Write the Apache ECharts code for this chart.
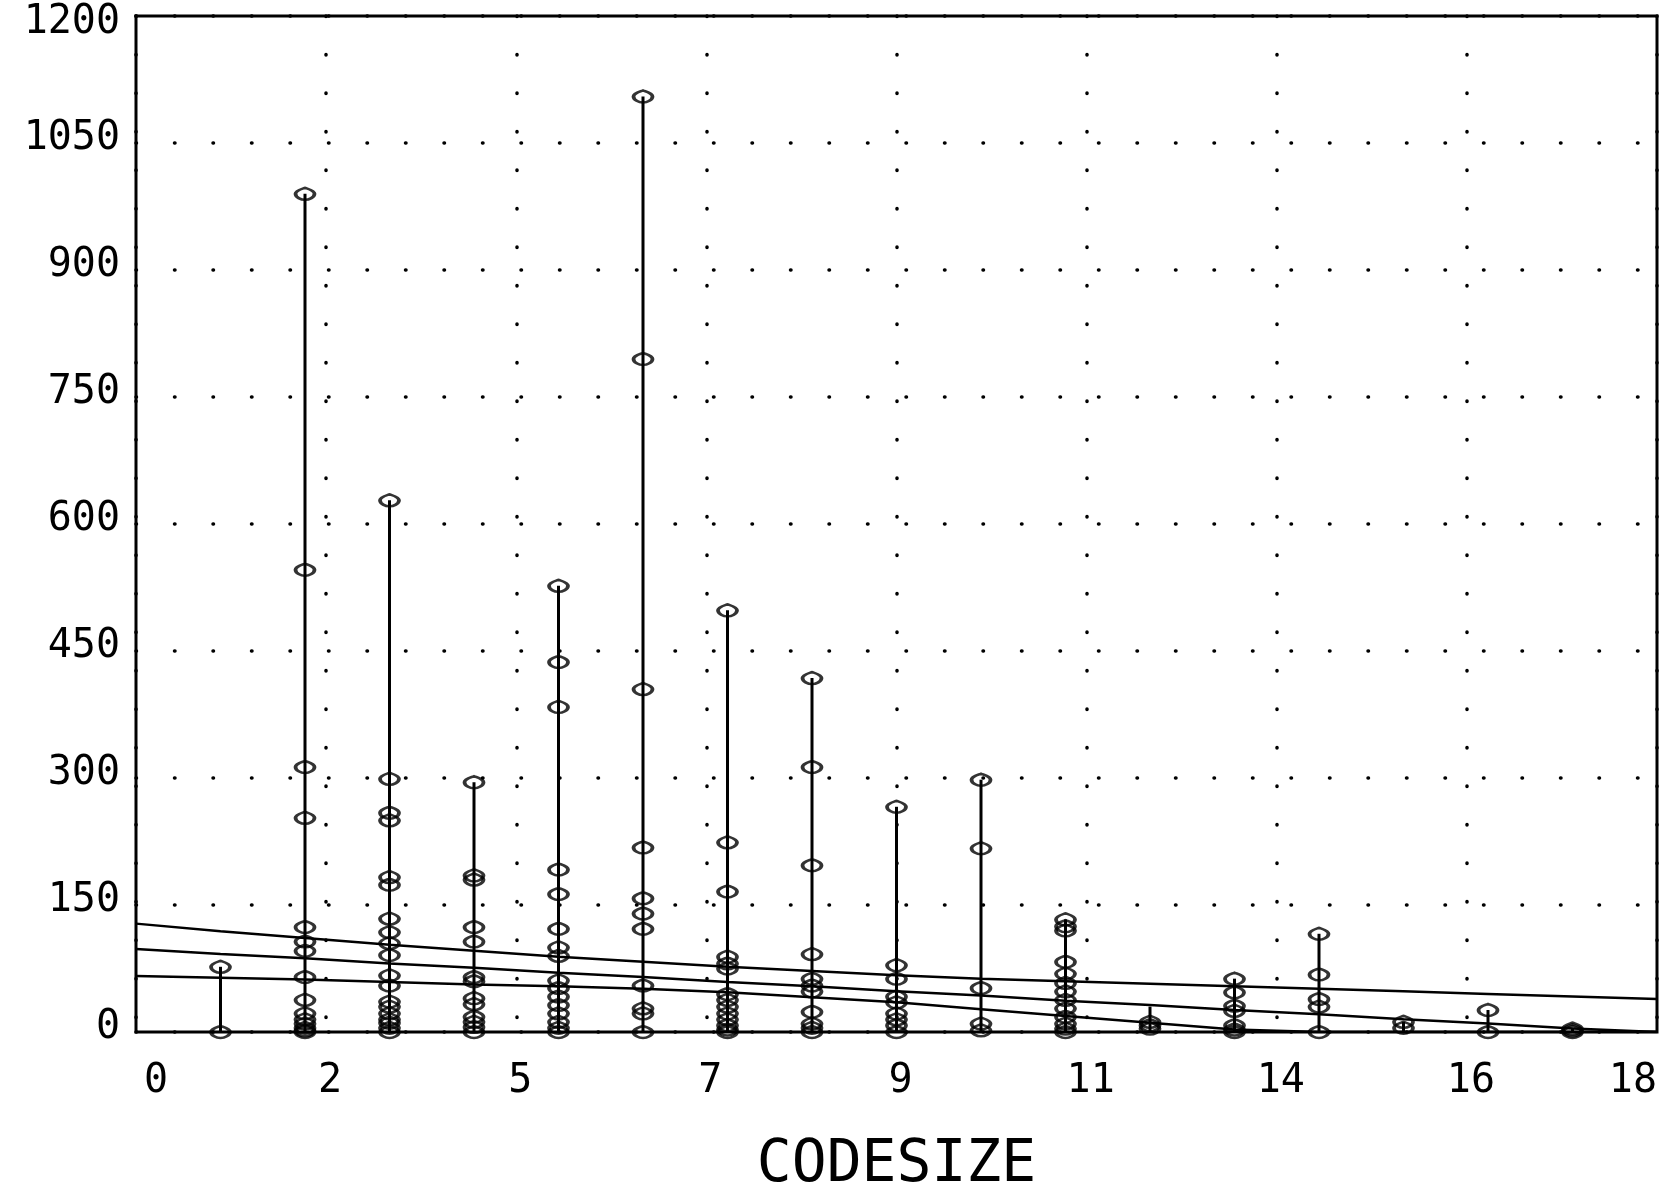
<!doctype html>
<html>
<head>
<meta charset="utf-8">
<title>CODESIZE</title>
<script src="https://cdn.jsdelivr.net/npm/echarts@6/dist/echarts.min.js"></script>
<style>
  html, body { margin: 0; padding: 0; width: 100%; height: 100%; background: #fff; }
  #chart { width: 1669px; height: 1193px; }
</style>
</head>
<body>
<div id="chart"></div>
<script>
// codesize values of each column of points
var codesizes = [1, 2, 3, 4, 5, 6, 7, 8, 9, 10, 11, 12, 13, 14, 15, 16, 17];

// point values (top to bottom)
var valuesByCodesize = [
  [77, 0],
  [990, 546, 313, 253, 124, 107, 96, 65, 38, 22, 15, 10, 5, 2, 0],
  [628, 299, 259, 250, 183, 174, 134, 118, 105, 91, 67, 55, 36, 30, 22, 15, 11, 5, 0],
  [295, 185, 180, 124, 107, 65, 60, 40, 33, 18, 12, 6, 0],
  [527, 437, 384, 192, 163, 122, 100, 90, 61, 52, 42, 32, 22, 12, 5, 0],
  [1105, 795, 405, 218, 158, 140, 122, 55, 28, 22, 0],
  [498, 224, 166, 89, 81, 75, 45, 38, 30, 22, 15, 8, 3, 0],
  [418, 313, 197, 92, 63, 55, 48, 24, 10, 5, 0],
  [266, 79, 63, 42, 35, 22, 15, 8, 0],
  [298, 217, 52, 10, 2],
  [133, 125, 120, 83, 69, 58, 48, 38, 28, 18, 10, 4, 0],
  [12, 8, 4],
  [63, 47, 31, 25, 8, 3, 0],
  [116, 68, 39, 30, 0],
  [12, 5],
  [26, 0],
  [4, 2, 0]
];

// height of the vertical stem drawn at each codesize
var stemTops = [77, 990, 628, 295, 527, 1105, 498, 418, 266, 298, 133, 30, 63, 116, 12, 26, 4];

// fitted line and its two bands, read at each x
var bandX = [0, 1, 2, 3, 4, 5, 6, 7, 8, 9, 10, 11, 12, 13, 14, 15, 16, 17, 18];
var fitLine = [98, 92, 87, 81, 76, 70, 65, 59, 54, 48, 43, 37, 32, 26, 21, 15, 10, 4, 0];
var upperBand = [128, 119, 111, 103, 96, 89, 83, 77, 72, 67, 63, 60, 57, 54, 51, 48, 45, 42, 39];
var lowerBand = [66, 64, 62, 59, 56, 54, 51, 47, 41, 35, 27, 19, 11, 3, 0, 0, 0, 0, 0];

// axis ticks
var xTickLabels = ['0', '2', '5', '7', '9', '11', '14', '16', '18'];
var yTicks = [0, 150, 300, 450, 600, 750, 900, 1050, 1200];

var points = [];
for (var i = 0; i < codesizes.length; i++) {
  for (var j = 0; j < valuesByCodesize[i].length; j++) {
    points.push([codesizes[i], valuesByCodesize[i][j]]);
  }
}
var stems = codesizes.map(function (c, i) { return [c, stemTops[i]]; });
function pairs(ys) { return bandX.map(function (x, i) { return [x, ys[i]]; }); }

var font = '"DejaVu Sans Mono", monospace';
var dotted = { color: '#000', width: 3.5, type: [0.5, 38], cap: 'round' };
var marker = 'path://M0,6 C0,2.5 6,1.2 9,0 C12,1.2 18,2.5 18,6 C18,9.8 12.5,12 9,12 C5.5,12 0,9.8 0,6 Z';
var yMax = yTicks[yTicks.length - 1];

var chart = echarts.init(document.getElementById('chart'));
chart.setOption({
  animation: false,
  backgroundColor: '#fff',
  grid: {
    left: 136, right: 12, top: 16, bottom: 161,
    outerBoundsMode: 'none',
    show: true, borderColor: '#000', borderWidth: 3
  },
  xAxis: {
    type: 'value',
    min: 0, max: 18, interval: 2.25,
    name: 'CODESIZE',
    nameLocation: 'middle',
    nameGap: 105,
    nameTextStyle: { fontFamily: font, fontSize: 58, color: '#000' },
    axisLine: { show: false },
    axisTick: { show: false },
    axisLabel: {
      color: '#000', fontFamily: font, fontSize: 40, margin: 30,
      alignMinLabel: 'left', alignMaxLabel: 'right',
      padding: [0, 0, 0, 8],
      formatter: function (v) { return xTickLabels[Math.round(v / 2.25)]; }
    },
    splitLine: { show: true, lineStyle: dotted }
  },
  yAxis: {
    type: 'value',
    min: yTicks[0], max: yMax, interval: 150,
    axisLine: { show: false },
    axisTick: { show: false },
    axisLabel: {
      color: '#000', fontFamily: font, fontSize: 40, margin: 16,
      padding: [0, 0, 8, 0],
      formatter: function (v) {
        return v === yMax ? '{top|' + v + '}' : String(v);
      },
      rich: {
        top: { fontFamily: font, fontSize: 40, color: '#000', padding: [22, 0, 0, 0] }
      }
    },
    splitLine: { show: true, lineStyle: dotted }
  },
  series: [
    {
      type: 'custom',
      data: stems,
      z: 2,
      renderItem: function (params, api) {
        var p0 = api.coord([api.value(0), 0]);
        var p1 = api.coord([api.value(0), api.value(1)]);
        return {
          type: 'line',
          shape: { x1: p0[0], y1: p0[1], x2: p1[0], y2: p1[1] },
          style: { stroke: '#000', lineWidth: 3 }
        };
      }
    },
    {
      type: 'line', data: pairs(upperBand), showSymbol: false, z: 3,
      lineStyle: { color: '#000', width: 2.5 }
    },
    {
      type: 'line', data: pairs(fitLine), showSymbol: false, z: 3,
      lineStyle: { color: '#000', width: 2.5 }
    },
    {
      type: 'line', data: pairs(lowerBand), showSymbol: false, z: 3,
      lineStyle: { color: '#000', width: 2.5 }
    },
    {
      type: 'scatter',
      data: points,
      z: 4,
      symbol: marker,
      symbolSize: [19, 12],
      itemStyle: { color: 'rgba(0,0,0,0)', borderColor: '#000', borderWidth: 3 }
    }
  ]
});
</script>
</body>
</html>
